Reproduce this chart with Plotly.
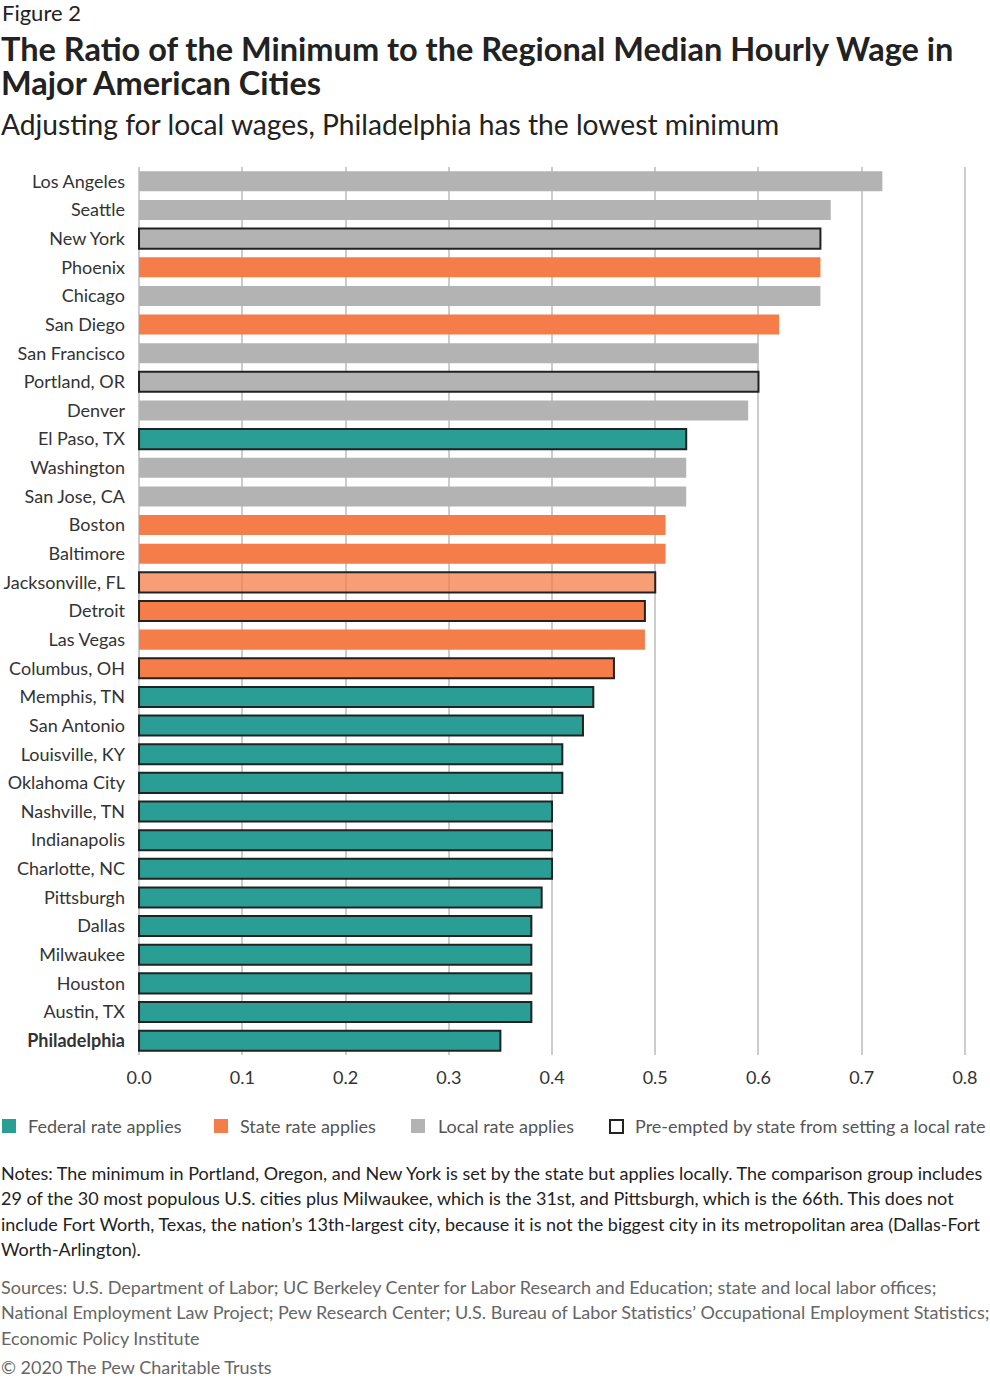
import plotly.graph_objects as go

cities = ["Los Angeles", "Seattle", "New York", "Phoenix", "Chicago", "San Diego",
          "San Francisco", "Portland, OR", "Denver", "El Paso, TX", "Washington",
          "San Jose, CA", "Boston", "Baltimore", "Jacksonville, FL", "Detroit",
          "Las Vegas", "Columbus, OH", "Memphis, TN", "San Antonio", "Louisville, KY",
          "Oklahoma City", "Nashville, TN", "Indianapolis", "Charlotte, NC",
          "Pittsburgh", "Dallas", "Milwaukee", "Houston", "Austin, TX", "Philadelphia"]
ratios = [0.72, 0.67, 0.66, 0.66, 0.66, 0.62, 0.60, 0.60, 0.59, 0.53, 0.53, 0.53,
          0.51, 0.51, 0.50, 0.49, 0.49, 0.46, 0.44, 0.43, 0.41, 0.41, 0.40, 0.40,
          0.40, 0.39, 0.38, 0.38, 0.38, 0.38, 0.35]
rate_type = ["Local", "Local", "Local", "State", "Local", "State", "Local", "Local",
             "Local", "Federal", "Local", "Local", "State", "State", "State", "State",
             "State", "State", "Federal", "Federal", "Federal", "Federal", "Federal",
             "Federal", "Federal", "Federal", "Federal", "Federal", "Federal",
             "Federal", "Federal"]
preempted = [False, False, True, False, False, False, False, True, False, True,
             False, False, False, False, True, True, False, True, True, True, True,
             True, True, True, True, True, True, True, True, True, True]
x_ticks = [0.0, 0.1, 0.2, 0.3, 0.4, 0.5, 0.6, 0.7, 0.8]
legend_labels = ["Federal rate applies", "State rate applies", "Local rate applies",
                 "Pre-empted by state from setting a local rate"]

COLORS = {"Federal": "#2a9d94", "State": "#f47d4a", "Local": "#b3b3b3"}
FONT = "Lato, 'Open Sans', sans-serif"

W, H = 990, 1379
L, R, T, B = 138, 966, 167, 1055

colors = []
for c, t in zip(cities, rate_type):
    if c == "Jacksonville, FL":
        colors.append("rgba(244,125,74,0.75)")
    else:
        colors.append(COLORS[t])
line_w = [2 if p else 0 for p in preempted]

ticktext = [f"<b>{c}</b>" if c == "Philadelphia" else c for c in cities]

fig = go.Figure()
fig.add_trace(go.Bar(
    x=ratios, y=cities, orientation="h",
    marker=dict(color=colors, line=dict(color="#222222", width=line_w)),
    showlegend=False, hoverinfo="x+y",
))

def px(x):
    return (x - L) / (R - L)

def py(y):
    return (B - y) / (B - T)

ann = []
def text(x, y, s, size, color="#222222", bold=False):
    ann.append(dict(x=px(x), y=py(y), xref="paper", yref="paper", text=(f"<b>{s}</b>" if bold else s),
                    showarrow=False, xanchor="left", yanchor="middle",
                    font=dict(family=FONT, size=size, color=color)))

text(0, 12, "Figure 2", 22)
text(-1, 48, "The Ratio of the Minimum to the Regional Median Hourly Wage in", 32.5, "#222222", True)
text(-1, 82, "Major American Cities", 32.5, "#222222", True)
text(-1, 124, "Adjusting for local wages, Philadelphia has the lowest minimum", 28.2, "#222222")

notes = ["Notes: The minimum in Portland, Oregon, and New York is set by the state but applies locally. The comparison group includes",
         "29 of the 30 most populous U.S. cities plus Milwaukee, which is the 31st, and Pittsburgh, which is the 66th. This does not",
         "include Fort Worth, Texas, the nation’s 13th-largest city, because it is not the biggest city in its metropolitan area (Dallas-Fort",
         "Worth-Arlington)."]
for i, s in enumerate(notes):
    text(-1, 1173 + i * 25.3, s, 18, "#222222")
sources = ["Sources: U.S. Department of Labor; UC Berkeley Center for Labor Research and Education; state and local labor offices;",
           "National Employment Law Project; Pew Research Center; U.S. Bureau of Labor Statistics’ Occupational Employment Statistics;",
           "Economic Policy Institute"]
for i, s in enumerate(sources):
    text(-1, 1287 + i * 25.3, s, 18, "#666666")
text(-1, 1367, "© 2020 The Pew Charitable Trusts", 18, "#666666")

shapes = []
leg_sq_x = [2, 214, 411, 609]
leg_tx_x = [26, 238, 436, 633]
leg_fill = [COLORS["Federal"], COLORS["State"], COLORS["Local"], "white"]
for sx, tx, lab, fc in zip(leg_sq_x, leg_tx_x, legend_labels, leg_fill):
    is_outline = fc == "white"
    shapes.append(dict(type="rect", xref="paper", yref="paper",
                       x0=px(sx + (1 if is_outline else 0)), x1=px(sx + 14),
                       y0=py(1119 + (1 if is_outline else 0)), y1=py(1133),
                       fillcolor=fc, line=dict(color="#222222", width=2 if is_outline else 0)))
    text(tx, 1126, lab, 18, "#555555")

fig.update_layout(
    width=W, height=H,
    margin=dict(l=L, r=W - R, t=T, b=H - B, pad=0),
    paper_bgcolor="white", plot_bgcolor="white",
    bargap=0.3,
    font=dict(family=FONT, size=18, color="#333333"),
    annotations=ann, shapes=shapes,
    xaxis=dict(range=[-0.001, 0.801], tickvals=x_ticks, ticktext=[f"{v:.1f}" for v in x_ticks],
               showgrid=True, gridcolor="#cccccc", gridwidth=1.5, zeroline=False,
               showline=False, ticks="", ticklabelstandoff=10,
               tickfont=dict(family=FONT, size=18, color="#333333")),
    yaxis=dict(categoryorder="array", categoryarray=cities, autorange="reversed",
               tickvals=cities, ticktext=ticktext, showgrid=False, zeroline=False,
               showline=False, ticks="", ticklabelstandoff=12,
               tickfont=dict(family=FONT, size=18, color="#333333")),
    template="none",
)

fig.write_html("out.html")
